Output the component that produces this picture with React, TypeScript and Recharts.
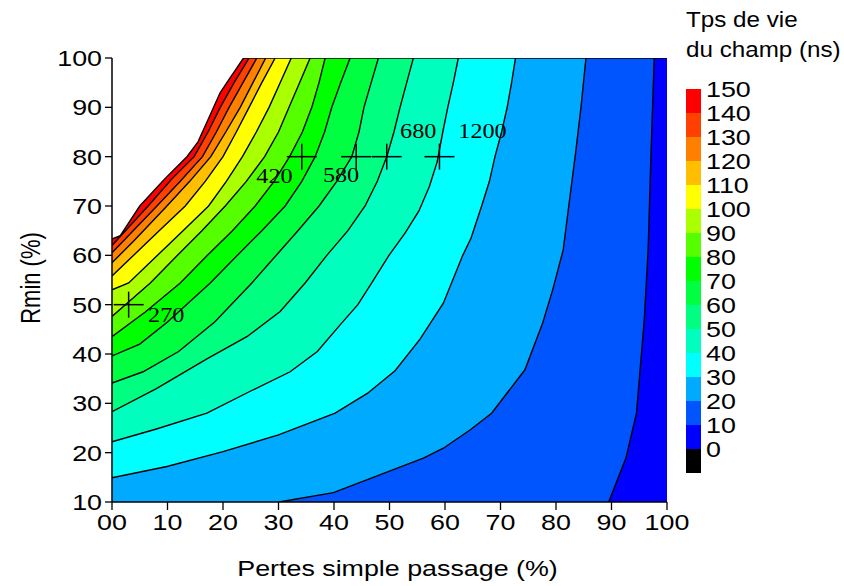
import React from "react";
import { ComposedChart, Area, Scatter, XAxis, YAxis, Label } from "recharts";

// contour lines, [pertes %, Rmin %]
const c150 = [[0, 63.3], [1.5, 64], [5, 70], [9.5, 75.5], [13.5, 80], [15.5, 83], [17.5, 88], [19.5, 93], [21, 95.5], [23.7, 100], [100, 100]];
const c140 = [[0, 62], [6.5, 70], [10.8, 75.5], [14.8, 80], [17.3, 85], [19.5, 90], [22, 95], [24.7, 100], [100, 100]];
const c130 = [[0, 60.5], [8.1, 70], [12.3, 75], [16.3, 80], [18.8, 85], [21.1, 90], [23.6, 95], [26.1, 100], [100, 100]];
const c120 = [[0, 58.5], [4, 63], [9.9, 70], [14, 75], [17.8, 80], [20.5, 85], [23.1, 90], [25.4, 95], [27.7, 100], [100, 100]];
const c110 = [[0, 55.8], [3.9, 60], [8.5, 65], [13.2, 70], [16.8, 75], [20, 80], [22.4, 85], [24.7, 90], [27, 95], [29.4, 100], [100, 100]];
const c100 = [[0, 53], [3, 54.4], [8.2, 60], [12.8, 65], [17.4, 70], [20.6, 75], [23.5, 80], [26, 85], [28.3, 90], [30.3, 95], [32.3, 100], [100, 100]];
const c90 = [[0, 47.6], [6.9, 54.4], [11.8, 60], [16.2, 65], [20.4, 70], [24.2, 75], [27.5, 80], [30, 85], [31.9, 90], [33.8, 95], [35.7, 100], [100, 100]];
const c80 = [[0, 43.5], [6, 48.5], [12.3, 54.4], [17.2, 60], [21.7, 65], [25.8, 70], [29.2, 75], [32, 80], [34.3, 85], [36, 90], [37.3, 95], [38.4, 100], [100, 100]];
const c70 = [[0, 39.6], [5, 42], [10, 46.5], [17.7, 54.4], [22.6, 60], [27, 65], [31.2, 70], [34.2, 75], [36.6, 80], [38.3, 85], [39.6, 90], [41.2, 95], [42.9, 100], [100, 100]];
const c60 = [[0, 34.1], [5.6, 36.4], [12, 40.5], [18.5, 46.5], [25.2, 54.4], [29.6, 60], [33.5, 65], [37.3, 70], [40.5, 75], [43.2, 80], [44.5, 85], [45.4, 90], [46.7, 95], [48, 100], [100, 100]];
const c50 = [[0, 28.3], [8, 33], [17.1, 39], [24.3, 43.5], [30.3, 48.6], [34.8, 54.4], [38.7, 60], [42.5, 65], [45.6, 70], [47.8, 75], [49.5, 80], [50.8, 85], [51.9, 90], [53.1, 95], [54.3, 100], [100, 100]];
const c40 = [[0, 22.2], [8, 24.8], [17.1, 28], [25, 32.5], [32.1, 36.4], [37, 40.5], [41.1, 45.9], [44.3, 50], [46.8, 54.4], [49.9, 60], [52.8, 64.5], [55.3, 69], [57.2, 74], [58.6, 79], [59.6, 85], [60.5, 90], [61.5, 95], [62.4, 100], [100, 100]];
const c30 = [[0, 14.9], [9.9, 17.2], [20, 20.2], [30, 23.6], [40.2, 28], [46, 32], [51, 36.6], [55.5, 43], [59.7, 50.3], [63.2, 60], [64.7, 63.5], [66.6, 70], [68, 75], [69, 80], [70.2, 85], [71.2, 90], [72, 95], [72.7, 100], [100, 100]];
const c20 = [[30.1, 10], [39.9, 11.9], [56.1, 18.9], [59.7, 20.9], [64.5, 24.6], [68.4, 28], [74.4, 36.8], [77.6, 46.3], [79.4, 53], [81.3, 61.1], [82.3, 70], [83.6, 81.4], [84.5, 90], [85.4, 100], [100, 100]];
const c10 = [[89.5, 10], [92.6, 18.9], [94.5, 28], [95.9, 46.9], [96.6, 61.1], [97.1, 80], [97.7, 100], [100, 100]];

const levels = [150, 140, 130, 120, 110, 100, 90, 80, 70, 60, 50, 40, 30, 20, 10];
const contourLines = [c150, c140, c130, c120, c110, c100, c90, c80, c70, c60, c50, c40, c30, c20, c10];
const bandColors = [
  "#ff0000", "#ff4000", "#ff8000", "#ffbf00", "#ffff00", "#aaff00", "#55ff00", "#00ff00",
  "#00ff40", "#00ff80", "#00ffbf", "#00ffff", "#00aaff", "#0055ff", "#0000ff",
];

const legendLabels = ["150", "140", "130", "120", "110", "100", "90", "80", "70", "60", "50", "40", "30", "20", "10", "0"];
const legendColors = [...bandColors, "#000000"];

const xTicks = [0, 10, 20, 30, 40, 50, 60, 70, 80, 90, 100];
const xTickLabels = ["00", "10", "20", "30", "40", "50", "60", "70", "80", "90", "100"];
const yTicks = [10, 20, 30, 40, 50, 60, 70, 80, 90, 100];
const yTickLabels = ["10", "20", "30", "40", "50", "60", "70", "80", "90", "100"];

// measured points and their lifetimes
const markX = [3, 34.2, 44, 49.5, 59];
const markY = [50, 80, 80, 80, 80];
const markText = ["270", "420", "580", "680", "1200"];
const markTextX = [6.5, 26, 38, 51.9, 62.4];
const markTextY = [46.5, 74.7, 74.9, 83.7, 83.8];

const SX = 1.22;
const FS = 22;
const SANS = "'Liberation Sans', Arial, sans-serif";
const SERIF = "'Liberation Serif', 'Times New Roman', serif";
const stretch = (x: number, y: number, k = SX) => `translate(${x} ${y}) scale(${k} 1) translate(${-x} ${-y})`;

const marks = markX.map((x, i) => ({ x, y: markY[i] }));
const markLabels = markText.map((t, i) => ({ x: markTextX[i], y: markTextY[i], t }));

const XTick = ({ x, y, payload }: any) => (
  <text x={x} y={y} dy="0.75em" textAnchor="middle" fontSize={FS} fontFamily={SANS} fill="#000" transform={stretch(x, y)}>
    {xTickLabels[xTicks.indexOf(payload.value)]}
  </text>
);

const YTick = ({ x, y, payload }: any) => (
  <text x={x} y={y} dy="0.36em" textAnchor="end" fontSize={FS} fontFamily={SANS} fill="#000" transform={stretch(x, y)}>
    {yTickLabels[yTicks.indexOf(payload.value)]}
  </text>
);

const NoTick = () => <g />;

const Cross = ({ cx, cy }: any) => (
  <g stroke="#000" strokeWidth={1.5}>
    <line x1={cx - 15} x2={cx + 15} y1={cy} y2={cy} />
    <line x1={cx} x2={cx} y1={cy - 13} y2={cy + 13} />
  </g>
);

const MarkText = ({ cx, cy, payload }: any) => (
  <text x={cx} y={cy} fontSize={22} fontFamily={SERIF} fill="#000" transform={stretch(cx, cy, 1.1)}>
    {payload.t}
  </text>
);

export default function App() {
  return (
    <div style={{ position: "absolute", left: 0, top: 0, width: 844, height: 586, background: "#fff" }}>
      <ComposedChart width={844} height={586} margin={{ top: 58, right: 177, left: 12, bottom: 0 }}>
        {contourLines.map((pts, i) => (
          <Area
            key={levels[i]}
            data={pts.map(([x, y]) => ({ x, y }))}
            dataKey="y"
            type="linear"
            baseValue="dataMin"
            fill={bandColors[i]}
            fillOpacity={1}
            stroke="#000"
            strokeWidth={1.4}
            isAnimationActive={false}
          />
        ))}
        <Scatter data={marks} dataKey="y" shape={<Cross />} isAnimationActive={false} />
        <Scatter data={markLabels} dataKey="y" shape={<MarkText />} isAnimationActive={false} />
        <XAxis
          type="number"
          dataKey="x"
          domain={[0, 100]}
          ticks={xTicks}
          allowDataOverflow
          height={84}
          tick={<XTick />}
          tickSize={8}
          tickMargin={4}
          axisLine={{ stroke: "#000", strokeWidth: 1.5 }}
          tickLine={{ stroke: "#000", strokeWidth: 1.3 }}
        >
          <Label
            content={({ viewBox }: any) => {
              const cx = viewBox.x + viewBox.width / 2 + 8;
              const cy = viewBox.y + 74;
              return (
                <text x={cx} y={cy} textAnchor="middle" fontSize={FS} fontFamily={SANS} fill="#000" transform={stretch(cx, cy)}>
                  Pertes simple passage (%)
                </text>
              );
            }}
          />
        </XAxis>
        <XAxis
          xAxisId="top"
          orientation="top"
          type="number"
          dataKey="x"
          domain={[0, 100]}
          ticks={xTicks}
          allowDataOverflow
          height={0}
          mirror
          tick={<NoTick />}
          tickSize={6}
          axisLine={{ stroke: "#000", strokeWidth: 1.5 }}
          tickLine={{ stroke: "#000", strokeWidth: 1.3 }}
        />
        <YAxis
          type="number"
          dataKey="y"
          domain={[10, 100]}
          ticks={yTicks}
          allowDataOverflow
          width={100}
          tick={<YTick />}
          tickSize={7}
          tickMargin={3}
          axisLine={{ stroke: "#000", strokeWidth: 1.5 }}
          tickLine={{ stroke: "#000", strokeWidth: 1.3 }}
        >
          <Label
            content={({ viewBox }: any) => {
              const cx = viewBox.x + 18;
              const cy = viewBox.y + viewBox.height / 2 - 2;
              return (
                <text
                  x={0}
                  y={0}
                  textAnchor="middle"
                  dy="0.36em"
                  fontSize={FS}
                  fontFamily={SANS}
                  fill="#000"
                  transform={`translate(${cx} ${cy}) scale(${SX} 1) rotate(-90)`}
                >
                  Rmin (%)
                </text>
              );
            }}
          />
        </YAxis>
        <YAxis
          yAxisId="right"
          orientation="right"
          type="number"
          domain={[10, 100]}
          ticks={yTicks}
          allowDataOverflow
          width={0}
          mirror
          tick={<NoTick />}
          tickSize={6}
          axisLine={{ stroke: "#000", strokeWidth: 1.5 }}
          tickLine={{ stroke: "#000", strokeWidth: 1.3 }}
        />
      </ComposedChart>

      <div
        style={{
          position: "absolute",
          left: 686,
          top: 5,
          fontFamily: SANS,
          fontSize: 22,
          lineHeight: "30px",
          whiteSpace: "nowrap",
          transform: "scaleX(1.1)",
          transformOrigin: "left top",
        }}
      >
        <div>Tps de vie</div>
        <div>du champ (ns)</div>
      </div>
      {legendLabels.map((lab, i) => (
        <React.Fragment key={lab}>
          <div style={{ position: "absolute", left: 686, top: 89 + i * 24, width: 15, height: 24, background: legendColors[i] }} />
          <div
            style={{
              position: "absolute",
              left: 706,
              top: 89 + i * 24 - 11,
              height: 24,
              lineHeight: "24px",
              fontFamily: SANS,
              fontSize: FS,
              transform: `scaleX(${SX})`,
              transformOrigin: "left center",
            }}
          >
            {lab}
          </div>
        </React.Fragment>
      ))}
    </div>
  );
}
